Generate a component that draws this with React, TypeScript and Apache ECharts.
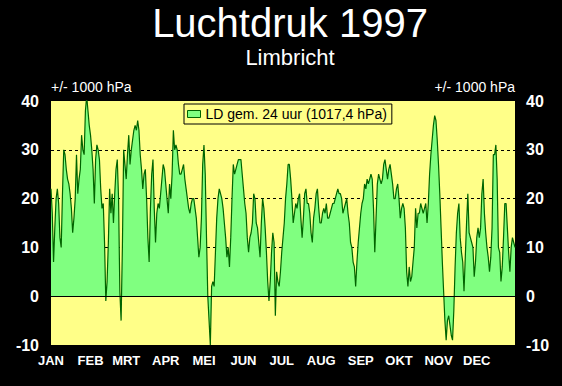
import React, { useEffect, useRef } from "react";
import * as echarts from "echarts";

const monthNames = ["JAN", "FEB", "MRT", "APR", "MEI", "JUN", "JUL", "AUG", "SEP", "OKT", "NOV", "DEC"];

// daily mean air pressure minus 1000 hPa, per month
const jan = [22, 17, 7, 14, 20, 22, 19, 12, 10, 21, 30, 29, 26, 24, 23, 21, 18, 13, 16, 20, 29, 21, 24, 26, 33, 30, 29, 38, 41, 38, 35];
const feb = [33, 30, 26, 19, 28, 31, 30, 28, 22, 18, 19, 11, -1, 3, 11, 22, 17, 21, 15, 21, 26, 28, 20, 1, -5, 10, 30, 27];
const mrt = [24, 29, 33, 27, 30, 32, 34, 35, 34, 36, 34, 29, 26, 22, 25, 26, 20, 12, 7, 18, 25, 28, 18, 11, 17, 19, 18, 21, 24, 27, 26];
const apr = [23, 20, 17, 23, 20, 25, 34, 30, 31, 30, 27, 25, 25, 26, 27, 24, 22, 20, 18, 17, 19, 20, 20, 18, 16, 12, 8, 10, 16, 27];
const mei = [31, 25, 12, 0, -5, -10, 2, 3, 2, 9, 16, 20, 22, 21, 20, 18, 15, 12, 8, 10, 6, 12, 20, 27, 25, 26, 27, 28, 28, 28, 25];
const jun = [22, 19, 17, 12, 9, 12, 13, 15, 21, 20, 15, 14, 11, 8, 15, 20, 18, 14, 9, 3, -1, 3, 9, 13, 11, -4, 5, 3, 2, 5];
const jul = [9, 12, 15, 20, 23, 27, 27, 24, 20, 15, 17, 19, 18, 20, 21, 16, 12, 16, 21, 22, 19, 19, 17, 13, 11, 16, 18, 21, 22, 18, 15];
const aug = [15, 17, 18, 17, 19, 16, 16, 17, 18, 19, 19, 20, 21, 22, 21, 21, 20, 17, 18, 19, 20, 17, 15, 11, 10, 7, 6, 2, 7, 11, 14];
const sep = [17, 19, 20, 23, 22, 24, 23, 24, 25, 24, 18, 9, 16, 23, 25, 24, 23, 24, 27, 28, 26, 24, 26, 27, 25, 23, 20, 20, 22, 23];
const okt = [20, 16, 18, 19, 18, 14, 5, 2, 6, 3, 4, 7, 10, 18, 14, 17, 17, 19, 18, 17, 18, 19, 15, 19, 25, 29, 32, 35, 37, 36, 32];
const nov = [27, 21, 14, 7, 1, -5, -9, -5, -4, -6, -8, -9, -3, 6, 13, 17, 19, 12, 9, 7, 1, 8, 15, 21, 13, 12, 11, 10, 4, 7];
const dec = [12, 14, 12, 14, 21, 24, 17, 13, 10, 8, 5, 8, 14, 29, 29, 31, 24, 10, 9, 3, 6, 12, 19, 19, 14, 9, 5, 10, 12, 11, 10];

const months = [jan, feb, mrt, apr, mei, jun, jul, aug, sep, okt, nov, dec];

const yTicks = { min: -10, max: 40, interval: 10 };
const seriesName = "LD gem. 24 uur (1017,4 hPa)";
const axisName = "+/- 1000 hPa";

export default function App() {
  const ref = useRef<HTMLDivElement>(null);

  useEffect(() => {
    if (!ref.current) return;
    const chart = echarts.init(ref.current, null, { renderer: "svg" });

    const values: number[] = [];
    const categories: string[] = [];
    months.forEach((m, mi) => {
      m.forEach((v, di) => {
        values.push(v);
        categories.push(di === 0 ? monthNames[mi] : "");
      });
    });

    const font = "Liberation Sans";
    const gridColors = ["rgba(0,0,0,0)", "rgba(0,0,0,0)", "#000", "#000", "#000", "rgba(0,0,0,0)"];

    chart.setOption({
      animation: false,
      backgroundColor: "#000",
      title: [
        {
          text: "Luchtdruk 1997",
          left: 285,
          top: -2,
          textAlign: "center",
          textStyle: { color: "#fff", fontSize: 40, fontWeight: "normal", fontFamily: font },
        },
        {
          text: "Limbricht",
          left: 285,
          top: 41,
          textAlign: "center",
          textStyle: { color: "#fff", fontSize: 22, fontWeight: "normal", fontFamily: font },
        },
      ],
      legend: {
        data: [seriesName],
        left: 184,
        top: 104,
        icon: "rect",
        itemWidth: 13,
        itemHeight: 7,
        padding: [3, 5, 3, 3],
        borderColor: "#000",
        borderWidth: 1,
        backgroundColor: "#FFFF88",
        itemStyle: { color: "#80FF80", borderColor: "#006400", borderWidth: 1 },
        textStyle: { color: "#000", fontSize: 14, fontFamily: font },
        selectedMode: false,
      },
      grid: {
        left: 51,
        right: 47,
        top: 101,
        bottom: 41,
        show: true,
        backgroundColor: "#FFFF88",
        borderWidth: 0,
      },
      xAxis: {
        type: "category",
        data: categories,
        boundaryGap: false,
        axisLine: { show: false },
        axisTick: { show: false },
        splitLine: { show: false },
        axisLabel: {
          interval: 0,
          margin: 9,
          color: "#fff",
          fontWeight: "bold",
          fontSize: 13,
          fontFamily: font,
        },
      },
      yAxis: [
        {
          type: "value",
          position: "left",
          min: yTicks.min,
          max: yTicks.max,
          interval: yTicks.interval,
          name: axisName,
          nameLocation: "end",
          nameGap: 7,
          nameTextStyle: { color: "#fff", fontSize: 14, fontFamily: font, align: "left" },
          axisLine: { show: false },
          axisTick: { show: false },
          axisLabel: { margin: 12, color: "#fff", fontWeight: "bold", fontSize: 16, fontFamily: font },
          splitLine: { show: true, lineStyle: { color: gridColors, type: [3, 3], width: 1 } },
        },
        {
          type: "value",
          position: "right",
          min: yTicks.min,
          max: yTicks.max,
          interval: yTicks.interval,
          name: axisName,
          nameLocation: "end",
          nameGap: 7,
          nameTextStyle: { color: "#fff", fontSize: 14, fontFamily: font, align: "right" },
          axisLine: { show: false },
          axisTick: { show: false },
          axisLabel: { margin: 11, color: "#fff", fontWeight: "bold", fontSize: 16, fontFamily: font },
          splitLine: { show: false },
        },
      ],
      series: [
        {
          name: seriesName,
          type: "line",
          data: values,
          showSymbol: false,
          symbol: "none",
          lineStyle: { color: "#006400", width: 1.2 },
          itemStyle: { color: "#80FF80" },
          areaStyle: { color: "#80FF80", opacity: 1 },
          z: 2,
          markLine: {
            silent: true,
            symbol: "none",
            label: { show: false },
            lineStyle: { color: "#000", type: "solid", width: 1 },
            data: [{ yAxis: 0 }],
            z: 5,
          },
        },
      ],
    });

    return () => chart.dispose();
  }, []);

  return (
    <div
      ref={ref}
      style={{ position: "absolute", left: 0, top: 0, width: 562, height: 386, background: "#000" }}
    />
  );
}
